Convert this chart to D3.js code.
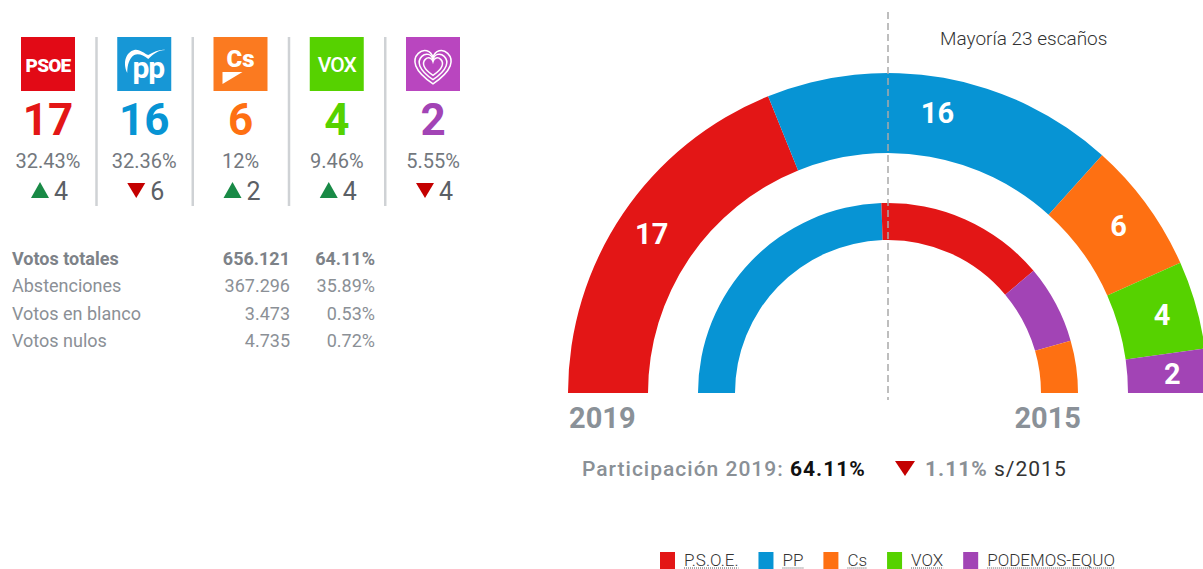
<!DOCTYPE html>
<html>
<head>
<meta charset="utf-8">
<script src="https://cdn.jsdelivr.net/npm/d3@7"></script>
<style>
  body { margin: 0; background: #fff; }
  svg { display: block; font-family: Roboto, "Noto Sans", sans-serif; }
</style>
</head>
<body>
<div id="chart"></div>
<script>
// Chart size
var width = 1203;
var height = 569;

// Parties and results 2019
var parties = ["PSOE", "PP", "Cs", "VOX", "PODEMOS-EQUO"];
var legendNames = ["P.S.O.E.", "PP", "Cs", "VOX", "PODEMOS-EQUO"];
var seats2019 = [17, 16, 6, 4, 2];
var pct2019 = ["32.43%", "32.36%", "12%", "9.46%", "5.55%"];
var seatChange = [4, -6, 2, 4, -4];

// Results 2015 (inner ring, drawn in this order)
var parties2015 = ["PP", "PSOE", "PODEMOS-EQUO", "Cs"];
var seats2015 = [22, 13, 6, 4];

// Vote summary table
var tableLabels = ["Votos totales", "Abstenciones", "Votos en blanco", "Votos nulos"];
var tableVotes = ["656.121", "367.296", "3.473", "4.735"];
var tablePct = ["64.11%", "35.89%", "0.53%", "0.72%"];

var majorityText = "Mayoría 23 escaños";
var turnout = "64.11%";
var turnoutChange = "1.11%";

var arcColor = d3.scaleOrdinal()
  .domain(parties)
  .range(["#e31616", "#0794d4", "#fe7012", "#56d200", "#a244b5"]);
var logoColor = d3.scaleOrdinal()
  .domain(parties)
  .range(["#e20a16", "#1797d6", "#fb7a20", "#56d200", "#b946bf"]);

var svg = d3.select("#chart")
  .append("svg")
  .attr("width", width)
  .attr("height", height);

// ---------- left panel: one column per party ----------
var colX = d3.scalePoint().domain(parties).range([48, 433]);
var logoSize = 54;

// separators (between columns only)
svg.selectAll("line.sep")
  .data(parties.slice(0, -1))
  .enter()
  .append("line")
  .attr("class", "sep")
  .attr("x1", d => colX(d) + 48.5)
  .attr("x2", d => colX(d) + 48.5)
  .attr("y1", 37)
  .attr("y2", 206)
  .style("stroke", "#cfd2d5")
  .style("stroke-width", 2.5);

var col = svg.selectAll("g.col")
  .data(parties)
  .enter()
  .append("g")
  .attr("class", "col")
  .attr("transform", d => "translate(" + colX(d) + ",0)");

col.append("rect")
  .attr("x", -logoSize / 2)
  .attr("y", 37)
  .attr("width", logoSize)
  .attr("height", logoSize)
  .style("fill", d => logoColor(d));

// logo marks (rough)
var logos = {
  "PSOE": function(g) {
    g.append("text").attr("x", 0).attr("y", 72).attr("text-anchor", "middle")
      .style("font-size", "19px").style("font-weight", 900).style("fill", "#fff")
      .style("letter-spacing", "-0.8px").text("PSOE");
  },
  "PP": function(g) {
    g.append("text").attr("x", 4).attr("y", 78).attr("text-anchor", "middle")
      .style("font-size", "30px").style("font-weight", 700).style("fill", "#fff")
      .style("letter-spacing", "-1px").text("pp");
    g.append("path")
      .attr("d", "M-17,73 C-22,62 -18,52 -10,50 C-4,49 0,54 4,55 C10,52 16,49 21,50 C14,50 9,54 4,59 C-1,55 -6,53 -10,55 C-15,58 -17,65 -17,73 Z")
      .style("fill", "#fff");
  },
  "Cs": function(g) {
    g.append("text").attr("x", 0).attr("y", 67).attr("text-anchor", "middle")
      .style("font-size", "24px").style("font-weight", 900).style("fill", "#fff")
      .text("Cs");
    g.append("path").attr("d", "M-18,72 L2,72 L-18,84 Z").style("fill", "#fff");
  },
  "VOX": function(g) {
    g.append("text").attr("x", 0).attr("y", 72).attr("text-anchor", "middle")
      .style("font-size", "21px").style("font-weight", 500).style("fill", "#fff")
      .style("letter-spacing", "-1px").text("VOX");
  },
  "PODEMOS-EQUO": function(g) {
    var heart = function(s) {
      return "M0," + (0.85 * s) +
        " C" + (-0.95 * s) + "," + (0.2 * s) + " " + (-1.0 * s) + "," + (-0.3 * s) + " " + (-0.7 * s) + "," + (-0.6 * s) +
        " C" + (-0.45 * s) + "," + (-0.85 * s) + " " + (-0.1 * s) + "," + (-0.75 * s) + " 0," + (-0.4 * s) +
        " C" + (0.1 * s) + "," + (-0.75 * s) + " " + (0.45 * s) + "," + (-0.85 * s) + " " + (0.7 * s) + "," + (-0.6 * s) +
        " C" + (1.0 * s) + "," + (-0.3 * s) + " " + (0.95 * s) + "," + (0.2 * s) + " 0," + (0.85 * s) + " Z";
    };
    g.selectAll("path.heart")
      .data([21, 16, 11])
      .enter()
      .append("path")
      .attr("class", "heart")
      .attr("transform", "translate(0,66)")
      .attr("d", heart)
      .style("fill", "none")
      .style("stroke", "#fff")
      .style("stroke-width", 1.5);
  }
};
col.each(function(d) { logos[d](d3.select(this)); });

// seats
col.append("text")
  .attr("y", 135)
  .attr("text-anchor", "middle")
  .style("font-size", "44px")
  .style("font-weight", 700)
  .style("fill", d => arcColor(d))
  .text((d, i) => seats2019[i]);

// vote share
col.append("text")
  .attr("y", 168)
  .attr("text-anchor", "middle")
  .style("font-size", "20px")
  .style("fill", "#73787e")
  .text((d, i) => pct2019[i]);

// seat change
col.append("path")
  .attr("transform", "translate(-8,190)")
  .attr("d", (d, i) => seatChange[i] > 0 ? "M-9,8 L9,8 L0,-8 Z" : "M-9,-7 L9,-7 L0,8 Z")
  .style("fill", (d, i) => seatChange[i] > 0 ? "#198a46" : "#c40000");
col.append("text")
  .attr("x", 13)
  .attr("y", 200)
  .attr("text-anchor", "middle")
  .style("font-size", "25px")
  .style("fill", "#5b6066")
  .text((d, i) => Math.abs(seatChange[i]));

// ---------- vote table ----------
var rowY = d3.scalePoint().domain(tableLabels).range([265, 347]);
var rows = svg.selectAll("g.row")
  .data(tableLabels)
  .enter()
  .append("g")
  .attr("class", "row")
  .attr("transform", d => "translate(0," + rowY(d) + ")")
  .style("font-size", "18px")
  .style("font-weight", (d, i) => i === 0 ? 700 : 400)
  .style("fill", (d, i) => i === 0 ? "#7d8288" : "#8b9096");
rows.append("text").attr("x", 12).text(d => d);
rows.append("text").attr("x", 290).attr("text-anchor", "end").text((d, i) => tableVotes[i]);
rows.append("text").attr("x", 375).attr("text-anchor", "end").text((d, i) => tablePct[i]);

// ---------- hemicycle ----------
var cx = 888, cy = 393;
var pie = d3.pie()
  .sort(null)
  .startAngle(-Math.PI / 2)
  .endAngle(Math.PI / 2);

var outerArc = d3.arc().innerRadius(240).outerRadius(320);
var labelArc = d3.arc().innerRadius(285).outerRadius(285);
var innerArc = d3.arc().innerRadius(153).outerRadius(190);

var hemi = svg.append("g").attr("transform", "translate(" + cx + "," + cy + ")");

var arcs2019 = pie(seats2019)
  .map((a, i) => Object.assign(a, { party: parties[i] }));
var arcs2015 = pie(seats2015)
  .map((a, i) => Object.assign(a, { party: parties2015[i] }));

hemi.selectAll("path.outer")
  .data(arcs2019)
  .enter()
  .append("path")
  .attr("class", "outer")
  .attr("d", outerArc)
  .style("fill", d => arcColor(d.party));

hemi.selectAll("path.inner")
  .data(arcs2015)
  .enter()
  .append("path")
  .attr("class", "inner")
  .attr("d", innerArc)
  .style("fill", d => arcColor(d.party));

hemi.selectAll("text.seat")
  .data(arcs2019)
  .enter()
  .append("text")
  .attr("class", "seat")
  .attr("transform", d => "translate(" + labelArc.centroid(d) + ")")
  .attr("text-anchor", "middle")
  .attr("dy", "0.36em")
  .style("font-size", "29px")
  .style("font-weight", 700)
  .style("fill", "#fff")
  .text(d => d.value);

// majority line
svg.append("line")
  .attr("x1", cx).attr("x2", cx)
  .attr("y1", 12).attr("y2", 400)
  .style("stroke", "#a9a9a9")
  .style("stroke-width", 1.5)
  .style("stroke-dasharray", "7,4");

svg.append("text")
  .attr("x", 940)
  .attr("y", 45)
  .style("font-size", "19px")
  .style("font-weight", 300)
  .style("fill", "#333")
  .text(majorityText);

// year labels
svg.append("text")
  .attr("x", 569).attr("y", 428)
  .style("font-size", "29px").style("font-weight", 700).style("fill", "#8a9198")
  .text("2019");
svg.append("text")
  .attr("x", 1081).attr("y", 428)
  .attr("text-anchor", "end")
  .style("font-size", "29px").style("font-weight", 700).style("fill", "#8a9198")
  .text("2015");

// turnout
var part = svg.append("text")
  .attr("x", 582).attr("y", 476)
  .style("font-size", "21px")
  .style("letter-spacing", "1px");
part.append("tspan").style("font-weight", 500).style("fill", "#8a9096").text("Participación 2019: ");
part.append("tspan").style("font-weight", 700).style("fill", "#111").text(turnout);
svg.append("path")
  .attr("transform", "translate(905,468)")
  .attr("d", "M-10,-7 L10,-7 L0,8 Z")
  .style("fill", "#c40000");
var part2 = svg.append("text")
  .attr("x", 925).attr("y", 476)
  .style("font-size", "21px")
  .style("letter-spacing", "1px");
part2.append("tspan").style("font-weight", 700).style("fill", "#8a9096").text(turnoutChange + " ");
part2.append("tspan").style("font-weight", 400).style("fill", "#333").text("s/2015");

// ---------- legend ----------
var legend = svg.append("g").attr("transform", "translate(660,0)");
var lx = 0;
legendNames.forEach(function(name, i) {
  var item = legend.append("g").attr("transform", "translate(" + lx + ",0)");
  item.append("rect")
    .attr("x", 0).attr("y", 552)
    .attr("width", 15).attr("height", 17)
    .style("fill", arcColor(parties[i]));
  var t = item.append("text")
    .attr("x", 24).attr("y", 566)
    .style("font-size", "17px")
    .style("font-weight", 300)
    .style("fill", "#333")
    .text(name);
  var w = t.node().getComputedTextLength();
  item.append("line")
    .attr("x1", 24).attr("x2", 24 + w)
    .attr("y1", 568).attr("y2", 568)
    .style("stroke", "#555")
    .style("stroke-width", 1)
    .style("stroke-dasharray", "1,1");
  lx += 24 + w + 20;
});
</script>
</body>
</html>
